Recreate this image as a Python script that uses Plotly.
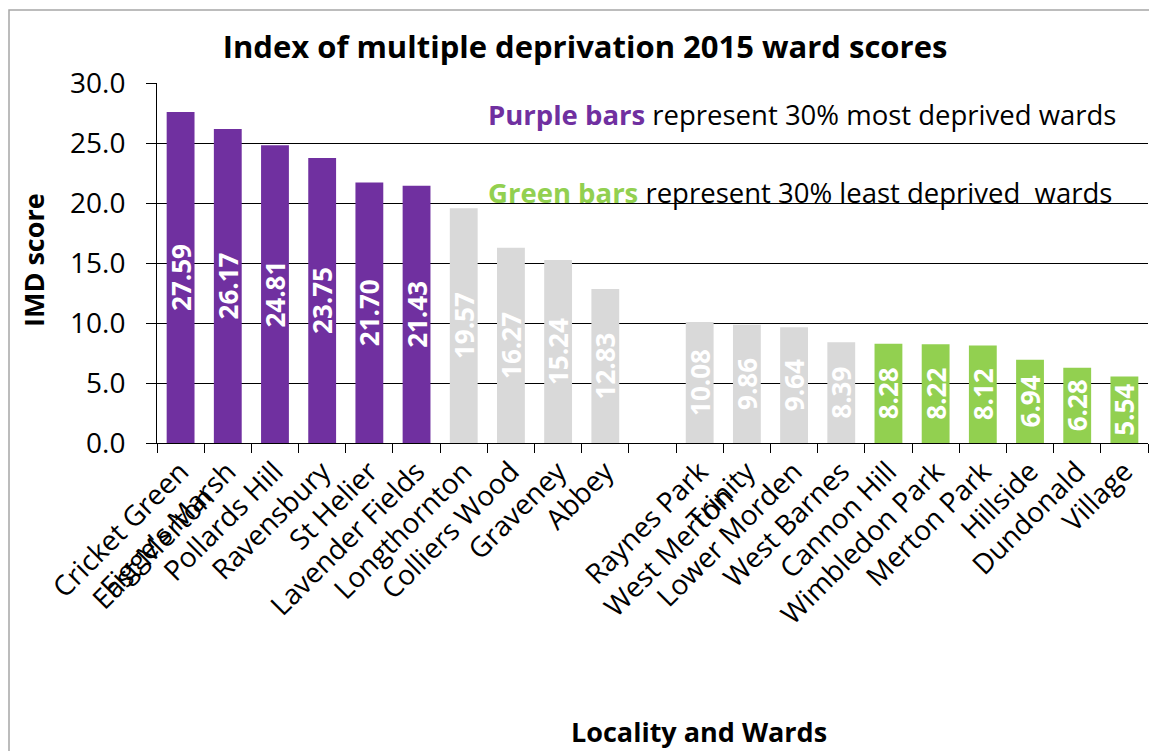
"""Index of multiple deprivation 2015 ward scores, Merton wards."""

import plotly.graph_objects as go

# slot order on the axis; " " is the empty gap between the two localities
CATEGORIES = [
    "Cricket Green<br>East Merton", "Figge's Marsh", "Pollards Hill", "Ravensbury",
    "St Helier", "Lavender Fields", "Longthornton", "Colliers Wood", "Graveney",
    "Abbey", " ", "Raynes Park<br>West Merton", "Trinity", "Lower Morden",
    "West Barnes", "Cannon Hill", "Wimbledon Park", "Merton Park", "Hillside",
    "Dundonald", "Village",
]

MOST_DEPRIVED = ["Cricket Green<br>East Merton", "Figge's Marsh", "Pollards Hill",
                 "Ravensbury", "St Helier", "Lavender Fields"]
MOST_SCORES = [27.59, 26.17, 24.81, 23.75, 21.70, 21.43]

MIDDLE = ["Longthornton", "Colliers Wood", "Graveney", "Abbey",
          "Raynes Park<br>West Merton", "Trinity", "Lower Morden", "West Barnes"]
MIDDLE_SCORES = [19.57, 16.27, 15.24, 12.83, 10.08, 9.86, 9.64, 8.39]

LEAST_DEPRIVED = ["Cannon Hill", "Wimbledon Park", "Merton Park", "Hillside",
                  "Dundonald", "Village"]
LEAST_SCORES = [8.28, 8.22, 8.12, 6.94, 6.28, 5.54]

PURPLE = "#7030A0"
GREY = "#D9D9D9"
GREEN = "#92D050"
FONT = "Open Sans, Arial, sans-serif"

# page size, and the 8px body margin the figure sits inside
W, H = 1157, 751
OFF = 8
FW, FH = W - OFF, H - OFF
# plot area in page pixels
X0, X1, Y0, Y1 = 157, 1148, 83, 443
PW, PH = X1 - X0, Y1 - Y0


def px(x):
    return (x - X0) / PW


def py(y):
    return (Y1 - y) / PH


fig = go.Figure()
for wards, scores, colour in [
    (MOST_DEPRIVED, MOST_SCORES, PURPLE),
    (MIDDLE, MIDDLE_SCORES, GREY),
    (LEAST_DEPRIVED, LEAST_SCORES, GREEN),
]:
    fig.add_trace(
        go.Bar(
            x=wards,
            y=scores,
            marker={"color": colour, "line": {"width": 0}},
            texttemplate="%{y:.2f}",
            textposition="inside",
            insidetextanchor="middle",
            textangle=-90,
            textfont={"color": "white", "size": 26, "family": FONT, "weight": "bold"},
            showlegend=False,
            hoverinfo="x+y",
        )
    )

fig.update_layout(
    width=FW,
    height=FH,
    margin={"l": X0 - OFF, "r": FW - (X1 - OFF), "t": Y0 - OFF, "b": FH - (Y1 - OFF)},
    paper_bgcolor="white",
    plot_bgcolor="white",
    barmode="overlay",
    bargap=0.41,
    uniformtext={"minsize": 26, "mode": "show"},
    font={"family": FONT, "color": "black"},
    title={
        "text": "<b>Index of multiple deprivation 2015 ward scores</b>",
        "font": {"size": 31, "family": FONT, "color": "black"},
        "xref": "paper",
        "x": px(585),
        "xanchor": "center",
        "y": 1 - (47 - OFF) / FH,
        "yanchor": "middle",
    },
)

fig.update_xaxes(
    type="category",
    categoryorder="array",
    categoryarray=CATEGORIES,
    range=[-0.5, len(CATEGORIES) - 0.5],
    tickangle=-45,
    tickson="boundaries",
    ticks="outside",
    ticklen=9,
    tickcolor="black",
    showline=True,
    linecolor="black",
    linewidth=1,
    showgrid=False,
    tickfont={"size": 28, "family": FONT, "color": "black"},
)
fig.update_yaxes(
    range=[0, 30],
    dtick=5,
    tickformat=".1f",
    ticks="outside",
    ticklen=10,
    tickcolor="black",
    showline=True,
    linecolor="black",
    linewidth=1,
    showgrid=True,
    gridcolor="black",
    gridwidth=1,
    zeroline=False,
    ticklabelstandoff=15,
    tickfont={"size": 28, "family": FONT, "color": "black"},
)

fig.add_annotation(
    text="<b>IMD score</b>",
    xref="paper", yref="paper", x=px(33), y=py(260),
    xanchor="center", yanchor="middle", textangle=-90, showarrow=False,
    font={"size": 27, "family": FONT, "color": "black"},
)
fig.add_annotation(
    text=f"<b><span style='color:{PURPLE}'>Purple bars</span></b> represent 30% most deprived wards",
    xref="paper", yref="paper", x=px(486), y=py(114),
    xanchor="left", yanchor="middle", showarrow=False,
    font={"size": 27.5, "family": FONT, "color": "black"},
)
fig.add_annotation(
    text=f"<b><span style='color:{GREEN}'>Green bars</span></b> represent 30% least deprived  wards",
    xref="paper", yref="paper", x=px(486), y=py(192),
    xanchor="left", yanchor="middle", showarrow=False,
    font={"size": 27.5, "family": FONT, "color": "black"},
)
fig.add_annotation(
    text="<b>Locality and Wards</b>",
    xref="paper", yref="paper", x=px(699), y=py(731),
    xanchor="center", yanchor="middle", showarrow=False,
    font={"size": 27, "family": FONT, "color": "black"},
)

# chart area border, runs off the right and bottom of the page
fig.add_shape(
    type="rect", xref="paper", yref="paper",
    x0=px(OFF + 1), y0=py(H + 20), x1=px(W + 20), y1=py(10),
    line={"color": "#A6A6A6", "width": 1.5},
    layer="below",
)

fig.write_html("out.html")
